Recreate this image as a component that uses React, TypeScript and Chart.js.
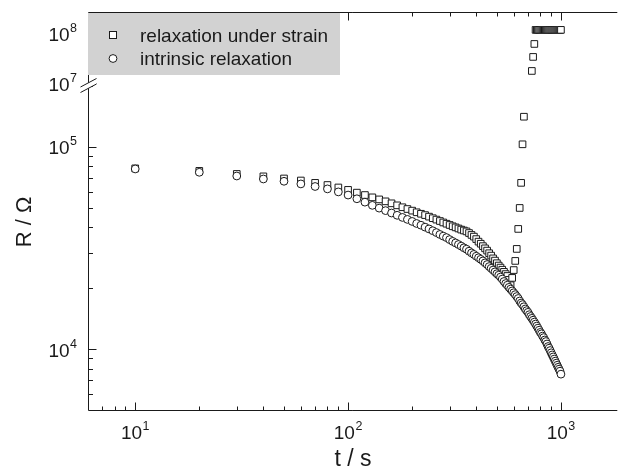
import React, { useEffect, useRef } from 'react';
import { Chart, registerables } from 'chart.js';

Chart.register(...registerables);

// ---------- data ----------
const timeIntrinsic = [
  10, 20, 30, 40, 50, 60, 70, 80, 90, 100,
  110, 120, 130, 140, 150, 160, 170, 180, 190, 200,
  210, 220, 230, 240, 250, 260, 270, 280, 290, 300,
  310, 320, 330, 340, 350, 360, 370, 380, 390, 400,
  410, 420, 430, 440, 450, 460, 470, 480, 490, 500,
  510, 520, 530, 540, 550, 560, 570, 580, 590, 600,
  610, 620, 630, 640, 650, 660, 670, 680, 690, 700,
  710, 720, 730, 740, 750, 760, 770, 780, 790, 800,
  810, 820, 830, 840, 850, 860, 870, 880, 890, 900,
  910, 920, 930, 940, 950, 960, 970, 980, 990, 1000,
];
const resistanceIntrinsic = [
  77800, 74900, 71800, 69400, 67600, 65600, 63700, 62000, 59900, 57800,
  55400, 53300, 51400, 49800, 48400, 47100, 45900, 44800, 43800, 42800,
  41800, 41000, 40100, 39300, 38500, 37700, 36900, 36200, 35600, 34800,
  34100, 33500, 32900, 32300, 31700, 31200, 30500, 29900, 29400, 28800,
  28300, 27800, 27300, 26700, 26200, 25600, 25100, 24600, 24100, 23600,
  23200, 22700, 22200, 21600, 21100, 20700, 20200, 19800, 19400, 19000,
  18600, 18200, 17800, 17300, 16900, 16600, 16200, 15800, 15500, 15200,
  14800, 14500, 14200, 13900, 13600, 13300, 13000, 12700, 12400, 12100,
  11900, 11600, 11400, 11100, 10900, 10600, 10300, 10100, 9840, 9590,
  9360, 9150, 8930, 8720, 8520, 8320, 8130, 7960, 7780, 7520,
];
const timeStrainLow = [
  10, 20, 30, 40, 50, 60, 70, 80, 90, 100,
  110, 120, 130, 140, 150, 160, 170, 180, 190, 200,
  210, 220, 230, 240, 250, 260, 270, 280, 290, 300,
  310, 320, 330, 340, 350, 360, 370, 380, 390, 400,
  410, 420, 430, 440, 450, 460, 470, 480, 490, 500,
  510, 520, 530, 540, 550, 560, 570, 580, 590, 600,
  610, 620, 630, 640, 650, 660, 670,
];
const resistanceStrainLow = [
  78300, 76100, 73500, 71500, 69800, 68200, 66400, 64800, 63000, 61300,
  59400, 57800, 56300, 55000, 53800, 52600, 51400, 50300, 49300, 48400,
  47500, 46700, 46000, 45200, 44400, 43700, 43000, 42300, 41700, 41100,
  40500, 40000, 39500, 39000, 38600, 38200, 37500, 36700, 36000, 35000,
  34000, 33200, 32300, 31500, 30700, 29800, 29000, 28100, 27400, 26600,
  25900, 25300, 24700, 24100, 23500, 23000, 22000, 20700, 22500, 24600,
  27300, 31300, 39300, 49900, 66400, 103000, 141000,
];
const timeStrainHigh = [
  730, 740, 750, 760, 770, 780, 790, 800, 810, 820,
  830, 840, 850, 860, 870, 880, 890, 900, 910, 920,
  930, 940, 950, 960, 970, 980, 990, 1000,
];
const resistanceStrainHigh = [
  17600000, 34000000, 62500000, 121000000, 121000000, 121000000, 121000000, 121000000, 121000000, 121000000,
  121000000, 121000000, 121000000, 121000000, 121000000, 121000000, 121000000, 121000000, 121000000, 121000000,
  121000000, 121000000, 121000000, 121000000, 121000000, 121000000, 121000000, 121000000,
];

const legendLabels = ['relaxation under strain', 'intrinsic relaxation'];
const xTitle = 't / s';
const yTitle = 'R / Ω';

const xMajorTicks = [10, 100, 1000];
const xMinorTicks = [7, 8, 9, 20, 30, 40, 50, 60, 70, 80, 90, 200, 300, 400, 500, 600, 700, 800, 900];
const yLowMajorTicks = [10000, 100000];
const yLowMinorTicks = [6000, 7000, 8000, 9000, 20000, 30000, 40000, 50000, 60000, 70000, 80000, 90000, 200000];
const yHighMajorTicks = [10000000, 100000000];
const yHighMinorTicks = [20000000, 30000000, 40000000, 50000000, 60000000, 70000000, 80000000, 90000000, 200000000];

const FONT = '"Liberation Sans", Arial, Helvetica, sans-serif';
const INK = '#1a1a1a';
const CANVAS_W = 622;
const CANVAS_H = 471;

function drawPow(ctx: CanvasRenderingContext2D, value: number, x: number, baseline: number, align: 'center' | 'right') {
  const exp = Math.round(Math.log10(value));
  ctx.font = `19px ${FONT}`;
  const wb = ctx.measureText('10').width;
  ctx.font = `12.5px ${FONT}`;
  const sup = String(exp);
  const ws = ctx.measureText(sup).width;
  const total = wb + 0.5 + ws;
  const left = align === 'center' ? x - total / 2 : x - total;
  ctx.textAlign = 'left';
  ctx.textBaseline = 'alphabetic';
  ctx.fillStyle = INK;
  ctx.font = `19px ${FONT}`;
  ctx.fillText('10', left, baseline);
  ctx.font = `12.5px ${FONT}`;
  ctx.fillText(sup, left + wb + 0.5, baseline - 9);
}

const framePlugin = {
  id: 'frame',
  afterDraw(chart: any) {
    const ctx: CanvasRenderingContext2D = chart.ctx;
    const ca = chart.chartArea;
    const xs = chart.scales.x;
    const yl = chart.scales.y;
    const yh = chart.scales.y2;
    const L = Math.floor(ca.left) + 0.5;
    const R = ca.right + 1; // frame continues past the right edge of the picture
    const T = Math.floor(ca.top) + 0.5;
    const B = Math.floor(ca.bottom) + 0.5;
    ctx.save();
    ctx.strokeStyle = INK;
    ctx.lineWidth = 1;

    // axis lines (bottom, top, left)
    ctx.beginPath();
    ctx.moveTo(L, T); ctx.lineTo(R, T);
    ctx.moveTo(L, B); ctx.lineTo(R, B);
    ctx.moveTo(L, T); ctx.lineTo(L, B);
    ctx.stroke();

    // x ticks (bottom and top, pointing inward)
    ctx.beginPath();
    const xTick = (v: number, len: number) => {
      const px = Math.round(xs.getPixelForValue(v)) + 0.5;
      ctx.moveTo(px, B); ctx.lineTo(px, B - len);
      ctx.moveTo(px, T); ctx.lineTo(px, T + len);
    };
    xMajorTicks.forEach((v) => xTick(v, 8));
    xMinorTicks.forEach((v) => xTick(v, 4));
    // y ticks (left, pointing inward)
    const yTick = (scale: any, v: number, len: number) => {
      const py = Math.round(scale.getPixelForValue(v)) + 0.5;
      ctx.moveTo(L, py); ctx.lineTo(L + len, py);
    };
    yLowMajorTicks.forEach((v) => yTick(yl, v, 8));
    yLowMinorTicks.forEach((v) => yTick(yl, v, 4.5));
    yHighMajorTicks.forEach((v) => yTick(yh, v, 8));
    yHighMinorTicks.forEach((v) => yTick(yh, v, 4.5));
    ctx.stroke();

    // axis break on the left axis
    const yb = yl.top;
    const p1 = [L - 8, yb + 4, L + 8, yb - 4.5];
    const p2 = [L - 8, yb + 9.5, L + 8, yb + 1];
    ctx.fillStyle = '#ffffff';
    ctx.beginPath();
    ctx.moveTo(p1[0], p1[1]); ctx.lineTo(p1[2], p1[3]);
    ctx.lineTo(p2[2], p2[3]); ctx.lineTo(p2[0], p2[1]);
    ctx.closePath();
    ctx.fill();
    ctx.beginPath();
    ctx.moveTo(p1[0], p1[1]); ctx.lineTo(p1[2], p1[3]);
    ctx.moveTo(p2[0], p2[1]); ctx.lineTo(p2[2], p2[3]);
    ctx.stroke();

    // tick labels
    xMajorTicks.forEach((v) => drawPow(ctx, v, xs.getPixelForValue(v), 439, 'center'));
    yLowMajorTicks.forEach((v) => drawPow(ctx, v, 77, yl.getPixelForValue(v) + 7.5, 'right'));
    yHighMajorTicks.forEach((v) => drawPow(ctx, v, 77, yh.getPixelForValue(v) + 7.5, 'right'));

    // axis titles
    ctx.fillStyle = INK;
    ctx.font = `23px ${FONT}`;
    ctx.textAlign = 'center';
    ctx.textBaseline = 'alphabetic';
    ctx.fillText(xTitle, 353, 466);
    ctx.save();
    ctx.translate(31, 222);
    ctx.rotate(-Math.PI / 2);
    ctx.font = `22px ${FONT}`;
    ctx.fillText(yTitle, 0, 0);
    ctx.restore();

    // legend box
    ctx.fillStyle = 'rgb(210,210,210)';
    ctx.fillRect(Math.floor(ca.left), Math.floor(ca.top) + 1, 252, 62);
    ctx.lineWidth = 1;
    ctx.strokeStyle = INK;
    ctx.fillStyle = '#ffffff';
    ctx.fillRect(109.5, 31.5, 7, 7);
    ctx.strokeRect(109.5, 31.5, 7, 7);
    ctx.beginPath();
    ctx.arc(113, 58.5, 3.9, 0, Math.PI * 2);
    ctx.fill();
    ctx.stroke();
    ctx.fillStyle = INK;
    ctx.font = `19px ${FONT}`;
    ctx.textAlign = 'left';
    ctx.fillText(legendLabels[0], 140, 41.5);
    ctx.fillText(legendLabels[1], 140, 64.5);
    ctx.restore();
  },
};

export default function App() {
  const ref = useRef<HTMLCanvasElement | null>(null);
  useEffect(() => {
    if (!ref.current) return;
    const common = {
      showLine: false,
      pointBackgroundColor: '#ffffff',
      pointBorderColor: INK,
      pointBorderWidth: 1,
      pointHoverRadius: 0,
    };
    const chart = new Chart(ref.current, {
      type: 'scatter',
      data: {
        datasets: [
          {
            ...common,
            label: legendLabels[1],
            data: timeIntrinsic.map((t, i) => ({ x: t, y: resistanceIntrinsic[i] })),
            yAxisID: 'y',
            pointStyle: 'circle',
            pointRadius: 3.9,
            order: 0,
          },
          {
            ...common,
            label: legendLabels[0],
            data: timeStrainLow.map((t, i) => ({ x: t, y: resistanceStrainLow[i] })),
            yAxisID: 'y',
            pointStyle: 'rect',
            pointRadius: 4.7,
            order: 1,
          },
          {
            ...common,
            label: legendLabels[0],
            data: timeStrainHigh.map((t, i) => ({ x: t, y: resistanceStrainHigh[i] })),
            yAxisID: 'y2',
            pointStyle: 'rect',
            pointRadius: 4.7,
            order: 1,
          },
        ],
      } as any,
      options: {
        responsive: false,
        maintainAspectRatio: false,
        animation: false,
        devicePixelRatio: 1,
        events: [],
        layout: { padding: { left: 88, top: 12, right: 0, bottom: 61 } },
        plugins: { legend: { display: false }, tooltip: { enabled: false } },
        scales: {
          x: {
            type: 'logarithmic',
            min: 6,
            max: 1820,
            grid: { display: false, drawTicks: false },
            border: { display: false },
            ticks: { display: false },
          },
          y: {
            type: 'logarithmic',
            position: 'left',
            min: 5000,
            max: 207000,
            stack: 'r',
            stackWeight: 327,
            weight: 1,
            grid: { display: false, drawTicks: false },
            border: { display: false },
            ticks: { display: false },
          },
          y2: {
            type: 'logarithmic',
            position: 'left',
            min: 10000000,
            max: 280000000,
            stack: 'r',
            stackWeight: 71,
            weight: 2,
            grid: { display: false, drawTicks: false },
            border: { display: false },
            ticks: { display: false },
          },
        },
      } as any,
      plugins: [framePlugin],
    });
    return () => chart.destroy();
  }, []);
  return (
    <div style={{ position: 'fixed', left: 0, top: 0, width: CANVAS_W, height: CANVAS_H, overflow: 'hidden', background: '#ffffff' }}>
      <canvas
        ref={ref}
        width={CANVAS_W}
        height={CANVAS_H}
        style={{ display: 'block', width: `${CANVAS_W}px`, height: `${CANVAS_H}px` }}
      />
    </div>
  );
}
